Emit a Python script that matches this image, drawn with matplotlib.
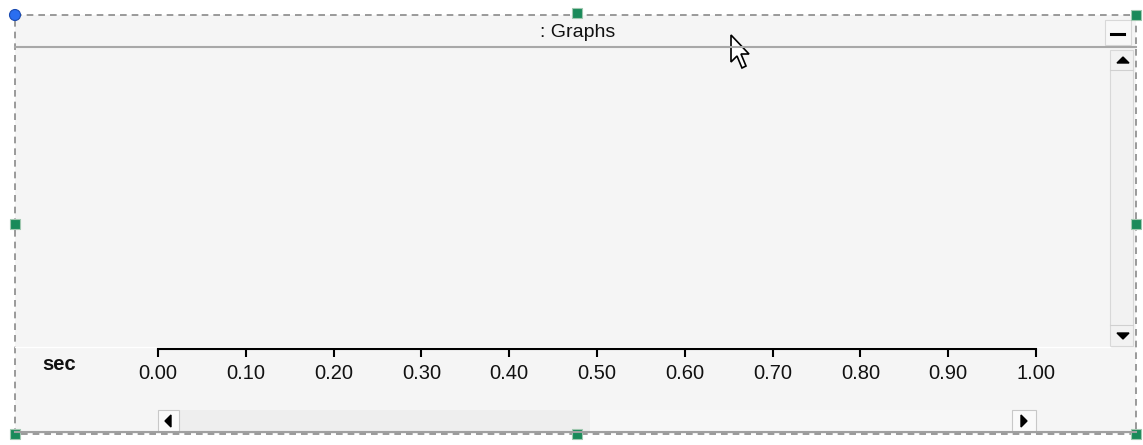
import matplotlib.pyplot as plt
import matplotlib.patches as patches

# time axis of the empty graph window
tick_values = [0.0, 0.1, 0.2, 0.3, 0.4, 0.5, 0.6, 0.7, 0.8, 0.9, 1.0]
tick_labels = ['0.00', '0.10', '0.20', '0.30', '0.40', '0.50',
               '0.60', '0.70', '0.80', '0.90', '1.00']
x_min, x_max = 0.0, 1.0
title = ': Graphs'
unit_label = 'sec'

W, H = 1143, 445
plt.rcParams['font.family'] = ['Liberation Sans', 'DejaVu Sans']

fig = plt.figure(figsize=(W / 100, H / 100), dpi=100)
fig.patch.set_facecolor('white')

# pixel-space canvas for the window frame
bg = fig.add_axes([0, 0, 1, 1])
bg.set_xlim(0, W)
bg.set_ylim(H, 0)
bg.axis('off')

panel = '#f5f5f5'
bg.add_patch(patches.Rectangle((15, 15), 1121, 419, facecolor=panel, edgecolor='none'))

# title bar
bg.plot([15, 1136], [47, 47], color='#a8a8a8', lw=1.5)
bg.text(578, 32.5, title, ha='center', va='center', fontsize=14, color='#111111')
bg.add_patch(patches.Rectangle((1105, 20), 26, 25, facecolor='#f8f8f8', edgecolor='#d8d8d8', lw=0.8))
bg.plot([1111, 1124], [34, 34], color='black', lw=2.2)

# vertical scrollbar
bg.add_patch(patches.Rectangle((1110, 50), 23, 296, facecolor='#f2f2f2', edgecolor='#d8d8d8', lw=0.8))
bg.add_patch(patches.Polygon([[1117, 63], [1129, 63], [1123, 57]], color='black'))
bg.add_patch(patches.Polygon([[1117, 333], [1129, 333], [1123, 339]], color='black'))
bg.plot([1110, 1133], [70, 70], color='#d0d0d0', lw=0.8)
bg.plot([1110, 1133], [325, 325], color='#d0d0d0', lw=0.8)
bg.plot([15, 1110], [347, 347], color='white', lw=1)

# horizontal scrollbar
bg.add_patch(patches.Rectangle((158, 410), 878, 22, facecolor='#eeeeee', edgecolor='none'))
bg.add_patch(patches.Rectangle((590, 410), 422, 22, facecolor='#f7f7f7', edgecolor='none'))
bg.add_patch(patches.Rectangle((158, 410), 21, 22, facecolor='#fafafa', edgecolor='#c8c8c8', lw=0.8))
bg.add_patch(patches.Rectangle((1012, 410), 24, 22, facecolor='#fafafa', edgecolor='#c8c8c8', lw=0.8))
bg.add_patch(patches.Polygon([[171, 415], [171, 427], [165, 421]], color='black'))
bg.add_patch(patches.Polygon([[1021, 415], [1021, 427], [1027, 421]], color='black'))
bg.plot([15, 1136], [432, 432], color='#a0a0a0', lw=1.5)

# unit label
bg.text(59.5, 364, unit_label, ha='center', va='center', fontsize=14.5,
        fontweight='bold', color='#111111')

# dashed selection frame
bg.add_patch(patches.Rectangle((15, 15), 1121, 419, fill=False, edgecolor='#8a8a8a',
                               lw=1.2, linestyle=(0, (4, 3))))

# selection handles
for hx, hy in [(577, 13), (1136, 15), (15, 224), (1136, 224), (15, 434), (577, 434), (1136, 434)]:
    bg.add_patch(patches.Rectangle((hx - 5, hy - 5), 10, 10, facecolor='#1a8a5a',
                                   edgecolor='#a0c8b0', lw=0.8))
bg.add_patch(patches.Circle((15, 15), 5.5, facecolor='#2a6ef0', edgecolor='#1a4ab0', lw=0.8))

# mouse pointer
cursor = [[731, 35], [731, 62], [737, 56], [742, 68], [746, 66], [741, 54], [749, 54]]
bg.add_patch(patches.Polygon(cursor, facecolor='white', edgecolor='black', lw=1.2, joinstyle='miter'))

# time axis
ax = fig.add_axes([158 / W, (H - 349) / H, (1036 - 158) / W, 0.5])
ax.set_xlim(x_min, x_max)
ax.set_facecolor('none')
for s in ['top', 'left', 'right']:
    ax.spines[s].set_visible(False)
ax.spines['bottom'].set_linewidth(1.5)
ax.set_yticks([])
ax.set_xticks(tick_values)
ax.set_xticklabels(tick_labels)
ax.tick_params(axis='x', direction='out', length=6, width=1.5, pad=5, labelsize=14.5,
               labelcolor='#111111')

fig.savefig('out.png', dpi=100, facecolor='white')
